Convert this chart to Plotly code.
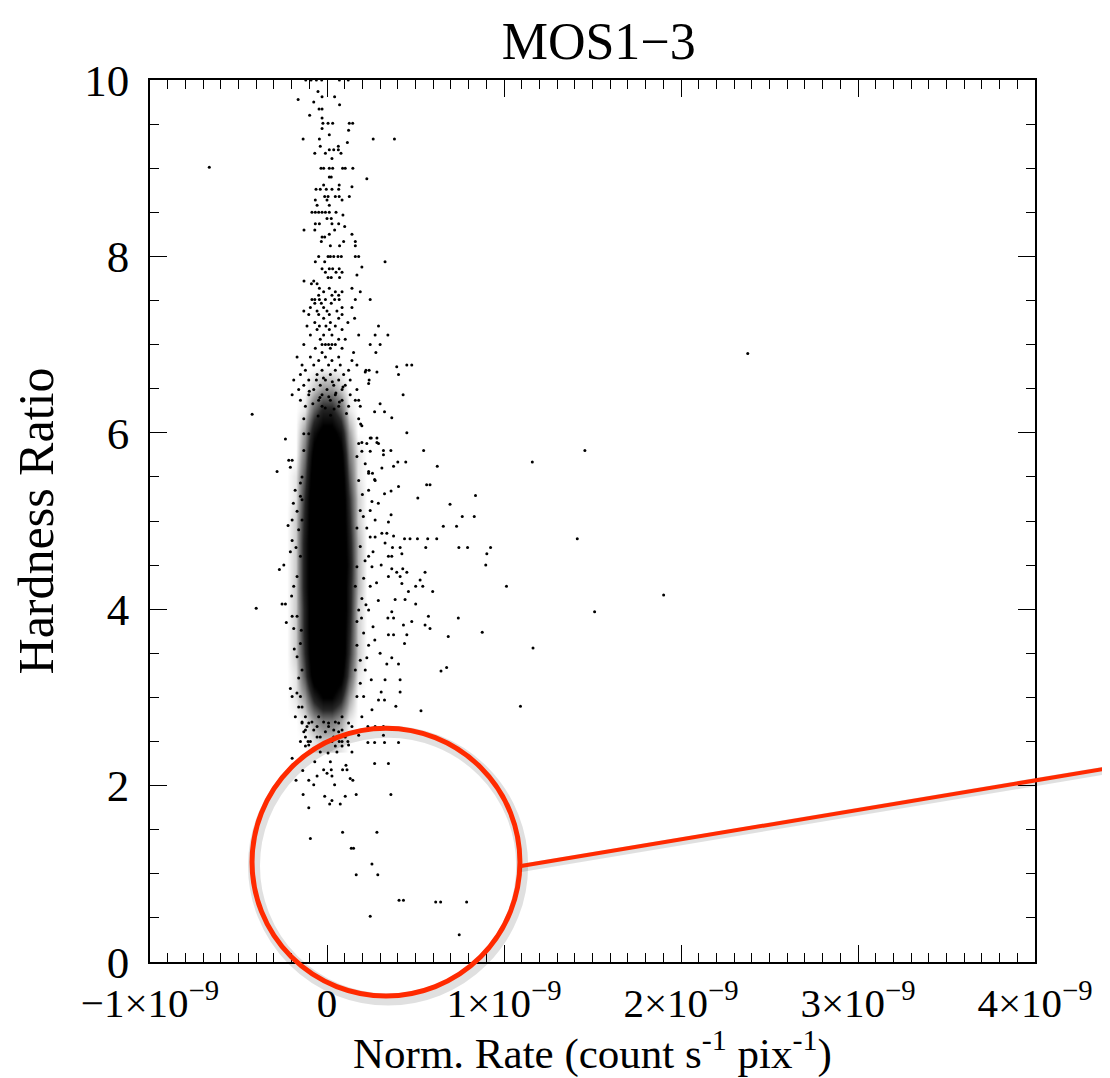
import plotly.graph_objects as go

# x values are in units of 1e-10 count s^-1 pix^-1, y is the hardness ratio

# dense core, read as a density grid (0 = empty, 1 = solid black)
core_x = [-2.25, -1.75, -1.25, -0.75, -0.25, 0.25, 0.75, 1.25, 1.75, 2.25]
core_y = [2.5, 2.75, 3.0, 3.25, 3.5, 3.75, 4.0, 4.25, 4.5, 4.75, 5.0,
          5.25, 5.5, 5.75, 6.0, 6.25, 6.5, 6.75]
core_z = [
    [0, 0, 0, .05, .1, .1, .05, 0, 0, 0],
    [0, 0, .05, .2, .3, .3, .2, .05, 0, 0],
    [0, .05, .2, .55, .75, .75, .55, .2, 0, 0],
    [0, .05, .4, .9, 1, 1, .85, .4, .05, 0],
    [0, .1, .5, 1, 1, 1, 1, .5, .1, 0],
    [0, .1, .55, 1, 1, 1, 1, .55, .1, 0],
    [0, .1, .55, 1, 1, 1, 1, .6, .1, 0],
    [0, .1, .6, 1, 1, 1, 1, .6, .15, 0],
    [0, .1, .6, 1, 1, 1, 1, .65, .15, 0],
    [0, .1, .6, 1, 1, 1, 1, .6, .15, 0],
    [0, .1, .55, 1, 1, 1, 1, .55, .1, 0],
    [0, .05, .5, 1, 1, 1, 1, .5, .1, 0],
    [0, .05, .4, .95, 1, 1, .95, .4, .05, 0],
    [0, 0, .3, .85, 1, 1, .85, .3, .05, 0],
    [0, 0, .2, .65, .85, .85, .65, .2, 0, 0],
    [0, 0, .05, .35, .55, .55, .35, .05, 0, 0],
    [0, 0, 0, .1, .2, .2, .1, 0, 0, 0],
    [0, 0, 0, 0, 0, 0, 0, 0, 0, 0],
]

# upper stem (y > 6)
stem_x = [-1.2, -0.9, -0.6, -0.3, 0.7, 1.2, -0.51, -1.63, -0.28, 0.43, -0.75, 0.71, -0.45, -0.28,
          -0.98, -0.28, -0.23, 0.06, 0.32, 1.26, 1.45, -0.28, 1.22, 0.13, -1.35, -0.43, 2.61, 3.81,
          1.15, -0.38, 0.64, 0.13, 0.38, 0.64, -0.69, -0.09, 0.79, 0.28,
          -0.34, -0.19, 0.13, 0.32, 0.88, 1.03, 1.46, -6.65,
          0.13, 0.24, 2.25, -0.19, 0.69, 1.41, -0.62, -0.38, -0.04, 0.28, 0.66, -0.13, 0.06, 0.47,
          0.69, 1.26, -0.66, 0.0, 0.85, -0.56, 0.13,
          -0.85, -0.66, -0.47, -0.28, -0.09, 0.13, 0.51, 0.9, 0.0, 0.24, -0.66, -0.43, 0.28, 0.66,
          1.0, -1.3, -0.69, 0.43, 0.13, 1.41, -0.28, -0.13, -0.32, 0.94, 1.6, 0.19, 0.71, 1.6,
          -0.47, 0.06, 0.19, 0.38, 0.62, 0.81, 1.6, 1.79, -0.66, -0.13, 3.28, 1.97, -0.28, 0.13,
          0.32, 0.69, -0.09, 0.51, 0.85, 1.69, 0.06, 0.24, 0.71, -1.3, -0.75, -0.88, -0.56, -0.43,
          0.13, 1.41, -0.19, 0.47, 0.85, 1.88, -0.47, 0.28, 0.66,
          -0.85, -0.69, -0.43, -0.09, 0.43, 0.69, 1.6, 2.44, -0.69, -0.32, 0.24, -0.94, -0.19, 0.85,
          1.41, -1.31, -0.56, 0.0, 0.56, -1.03, -0.47, 0.13, 0.85, -0.19, 0.66, 1.56, -0.69, 0.19,
          1.18, -1.13, -0.43, -0.06, 0.47, 2.91, -0.56, 0.13, 0.85, -0.94, -0.19, 0.28, 1.79, 2.72,
          3.44, -0.38, 0.66, 1.03,
          -1.31, -0.28, -0.09, 0.09, 0.28, 0.47, 2.44, 3.0, -0.66, 0.19, 0.85, -0.28, 1.5, 2.76,
          -1.69, -0.94, -0.09, 0.66, -0.47, 0.28, 1.41, -1.41, -0.75, 0.09, 0.75, 1.69, 4.51, 4.79,
          3.94, -1.22, -0.28, 0.47, 1.22, 2.2, 2.38, 2.16, 2.82, -1.5, -0.56, 0.19, 0.94, 4.04,
          -1.88, -1.03, -0.09, 0.66, 1.31, 2.38, 2.35, -1.31, -0.38, 0.38, 1.03, -1.6, -0.75, 0.0,
          0.85, 1.69, -1.97, -1.03, -0.28, 0.47, 1.31, 4.3, -1.5, -0.47, 0.19, 0.85, 1.6, 1.79,
          3.0, -1.22, -0.28, 0.66, 1.22, 1.88, 2.69, 3.25, -4.23, -1.31, 1.79, 3.66, 1.97, 4.51,
          -0.6, -0.2, 0.3, 0.9, -1.0, 0.5, -0.4, 0.1, 0.7, -0.8, -0.1, 0.4, 1.1, -0.5, 0.2]
stem_y = [10, 10, 10, 10, 10, 10, 9.87, 9.78, 9.81, 9.81, 9.75, 9.72, 9.67, 9.67,
          9.6, 9.57, 9.51, 9.51, 9.51, 9.51, 9.51, 9.45, 9.43, 9.38, 9.33, 9.33, 9.33, 9.33,
          9.29, 9.25, 9.25, 9.21, 9.21, 9.21, 9.17, 9.17, 9.17, 9.11,
          9.0, 9.0, 9.0, 9.0, 9.0, 9.0, 9.0, 9.01,
          8.9, 8.9, 8.88, 8.81, 8.81, 8.79, 8.76, 8.76, 8.76, 8.76, 8.76, 8.68, 8.68, 8.68,
          8.68, 8.68, 8.64, 8.64, 8.64, 8.58, 8.58,
          8.5, 8.5, 8.5, 8.5, 8.5, 8.5, 8.5, 8.47, 8.43, 8.43, 8.37, 8.37, 8.37, 8.37,
          8.34, 8.3, 8.3, 8.3, 8.25, 8.25, 8.22, 8.22, 8.17, 8.17, 8.17, 8.12, 8.12, 8.12,
          8.0, 8.0, 8.0, 8.0, 8.0, 8.0, 8.0, 8.0, 7.94, 7.94, 7.94, 7.88, 7.86, 7.86,
          7.86, 7.86, 7.82, 7.82, 7.82, 7.79, 7.76, 7.76, 7.76, 7.72, 7.72, 7.69, 7.69, 7.64,
          7.64, 7.64, 7.6, 7.6, 7.6, 7.6, 7.56, 7.56, 7.56,
          7.51, 7.51, 7.51, 7.51, 7.51, 7.51, 7.51, 7.51, 7.47, 7.47, 7.47, 7.42, 7.42, 7.42,
          7.42, 7.38, 7.38, 7.38, 7.38, 7.34, 7.34, 7.34, 7.34, 7.3, 7.3, 7.3, 7.25, 7.25,
          7.25, 7.21, 7.21, 7.21, 7.21, 7.21, 7.17, 7.17, 7.17, 7.11, 7.11, 7.11, 7.11, 7.11,
          7.11, 7.06, 7.06, 7.06,
          7.0, 7.0, 7.0, 7.0, 7.0, 7.0, 7.0, 7.0, 6.96, 6.96, 6.96, 6.91, 6.91, 6.91,
          6.86, 6.86, 6.86, 6.86, 6.82, 6.82, 6.82, 6.77, 6.77, 6.77, 6.77, 6.77, 6.77, 6.77,
          6.75, 6.71, 6.71, 6.71, 6.71, 6.71, 6.71, 6.69, 6.69, 6.66, 6.66, 6.66, 6.66, 6.66,
          6.6, 6.6, 6.6, 6.6, 6.6, 6.6, 6.56, 6.54, 6.54, 6.54, 6.54, 6.49, 6.49, 6.49,
          6.49, 6.49, 6.43, 6.43, 6.43, 6.43, 6.43, 6.43, 6.37, 6.37, 6.37, 6.37, 6.37, 6.37,
          6.33, 6.3, 6.3, 6.3, 6.3, 6.3, 6.24, 6.24, 6.21, 6.16, 6.16, 6.17, 6.08, 6.0,
          6.6, 6.62, 6.58, 6.52, 6.47, 6.45, 6.4, 6.41, 6.35, 6.33, 6.28, 6.27, 6.22, 6.19, 6.2]

# loose points around the edges of the core
fringe_x = [-2.35, -2.16, -1.97, -2.07, -2.82, -1.41, -1.5, -1.41, -1.69, -1.97, -1.41, -1.6,
            -1.97, -2.07, -2.44, -2.69, -1.69, -1.88, -2.54, -2.35, -1.97, -1.69, -1.88, -1.5,
            -1.69, -1.41, -1.6, -1.31, -1.03, -1.31, -1.5, -1.5, -1.45, -2.07, -1.97, -1.5,
            -1.6, -1.41, -1.8, -2.2, -1.75, -2.0, -1.85, -2.3, -1.7, -1.9,
            2.44, 2.82, 1.79, 2.25, 2.91, 1.97, 2.44, 1.69, 2.16, 2.35, 1.79, 2.72, 2.35, 2.54,
            1.88, 2.44, 2.72, 1.69, 2.25, 2.44, 2.72, 1.88, 2.35, 1.69, 2.54, 2.07, 1.6, 2.44,
            1.97, 1.79, 2.35, 1.69, 2.07, 1.69, 2.35, 1.88, 1.6, 2.16, 1.88, 1.69, 2.07,
            2.9, 3.0, 2.6, 2.8, 2.5, 2.9, 3.1, 2.6, 2.2, 2.7, 2.0, 2.15, 1.95, 2.25, 2.05, 1.9]
fringe_y = [5.93, 5.69, 5.69, 5.61, 5.56, 5.5, 5.43, 5.24, 5.11, 5.01, 5.01, 4.9,
            4.78, 4.65, 4.5, 4.45, 4.37, 4.26, 4.06, 4.06, 3.92, 3.92, 3.78, 3.61,
            3.46, 3.31, 3.22, 5.99, 5.99, 5.8, 5.28, 4.6, 3.76, 3.1, 3.01, 3.01,
            2.89, 2.89, 5.35, 4.95, 4.7, 4.15, 3.55, 3.85, 3.05, 5.2,
            5.94, 5.94, 5.88, 5.88, 5.88, 5.79, 5.79, 5.73, 5.65, 5.56, 5.46, 5.46, 5.35, 5.22,
            5.12, 5.12, 5.01, 4.92, 4.92, 4.82, 4.82, 4.71, 4.6, 4.48, 4.48, 4.35, 4.26, 4.26,
            4.12, 3.99, 3.99, 3.86, 3.73, 3.59, 3.59, 3.42, 3.31, 3.31, 3.16, 3.01, 3.01,
            4.1, 3.5, 3.8, 4.3, 3.2, 5.2, 5.6, 4.65, 4.05, 3.65, 5.3, 4.55, 3.9, 3.45, 5.05, 6.1]

# scattered points to the right of the core and a few far outliers
halo_x = [2.5, 1.97, 2.82, 3.19, 3.61, 5.46, 14.57, 3.19, 4.0, 4.45, 11.6, 3.76, 6.23, 2.35,
          2.57, 2.69, 5.63, 5.82, 4.04, 3.62, 3.25, 8.39, 5.13, 6.95, 3.62, 7.64, 8.32, 3.47,
          6.57, 7.32, 3.1, 3.38, 3.76, 4.38, 4.69, 5.11, 5.69, 6.2, 14.14, 3.28, 3.7, 4.13,
          5.58, 7.45, 7.94, 9.24, 4.23, 9.03, 3.47, 3.66, 3.06, 8.97, 3.66, 4.28, 3.94, 4.51,
          5.54, 3.47, 4.13, 5.26, 4.23, 5.01, 5.41, 10.14, 4.6, 5.97, 19.02, 3.85, 4.41, 5.01,
          3.66, 15.12, 5.73, 3.44, 3.76, 7.42, 4.79, 4.32, 5.54, 5.82, 8.77, 3.47, 3.76, 4.51,
          6.85, 4.38, 11.64, 3.66, 3.38, 4.04, 6.76, 6.44, 3.28, 4.13, 3.06, 4.13, 2.91, 3.25,
          3.89, 10.93, 5.31, 2.54, 23.77, -4.0]
halo_y = [5.94, 5.89, 5.89, 5.8, 5.8, 5.8, 5.8, 5.75, 5.67, 5.67, 5.67, 5.62, 5.62, 5.54,
          5.54, 5.47, 5.41, 5.41, 5.39, 5.34, 5.31, 5.29, 5.26, 5.19, 5.07, 5.05, 5.05, 4.99,
          4.94, 4.94, 4.86, 4.86, 4.83, 4.8, 4.8, 4.8, 4.8, 4.8, 4.8, 4.75, 4.7, 4.7,
          4.7, 4.7, 4.7, 4.7, 4.63, 4.63, 4.6, 4.6, 4.5, 4.5, 4.46, 4.46, 4.42, 4.42,
          4.42, 4.37, 4.37, 4.33, 4.29, 4.26, 4.26, 4.26, 4.2, 4.2, 4.16, 4.11, 4.11, 4.06,
          3.97, 3.97, 3.92, 3.9, 3.9, 3.9, 3.86, 3.82, 3.82, 3.78, 3.74, 3.71, 3.71, 3.71,
          3.69, 3.61, 3.56, 3.45, 3.38, 3.38, 3.34, 3.3, 3.2, 3.2, 3.06, 3.06, 2.97, 2.97,
          2.9, 2.9, 2.85, 2.86, 6.9, 4.01]

# low hardness tail (y < 2.8)
tail_x = [-1.79, -1.22, -0.47, 0.85, 1.97, -1.41, -0.85, -0.19, 0.47, -1.41, -1.03, 0.09, 0.66,
          1.22, -1.13, -0.56, 0.09, 1.41, 2.31, 2.72, 3.19, -1.22, -0.75, 0.38, 0.85, -1.31,
          -0.09, 0.66, 1.79, 3.19, -1.22, -0.38, 0.38, 1.03, -0.56, 0.56, -1.5, -0.94, 0.09,
          0.85, -1.07, 0.28, 0.69, 1.18, 2.31, 2.69, 3.25, 4.04, -1.03, 1.22, -1.22, 0.47, 0.85,
          -0.94, -0.38, 0.56, 1.41, 0.06, -1.97, -0.69, 0.19, 2.69, 3.47, 1.07, -0.19, 0.24,
          0.88, 1.13, -1.37, 0.0, -0.56, 0.28, 1.31, -1.75, -1.03, 1.46, -0.75, 0.43, -1.35,
          1.65, 3.61, -0.13, 1.03, 0.28, 0.15, 0.75, -1.03, 0.88, 2.82, -0.94, 1.37, 1.5, 2.54,
          1.65, 2.87, 4.07, 4.32, 6.14, 6.42, 7.89, 2.44, 7.47]
tail_y = [2.78, 2.78, 2.78, 2.78, 2.78, 2.72, 2.72, 2.72, 2.72, 2.71, 2.71, 2.71, 2.71,
          2.71, 2.67, 2.67, 2.67, 2.67, 2.67, 2.67, 2.67, 2.63, 2.63, 2.63, 2.63, 2.61,
          2.61, 2.61, 2.57, 2.57, 2.55, 2.55, 2.55, 2.55, 2.55, 2.55, 2.5, 2.5, 2.5,
          2.5, 2.5, 2.5, 2.5, 2.5, 2.49, 2.49, 2.49, 2.49, 2.46, 2.46, 2.45, 2.45, 2.45,
          2.38, 2.38, 2.38, 2.38, 2.37, 2.31, 2.27, 2.27, 2.25, 2.25, 2.23, 2.18, 2.18,
          2.18, 2.18, 2.17, 2.14, 2.11, 2.11, 2.08, 2.06, 2.06, 2.06, 2.01, 2.01, 1.9,
          1.9, 1.9, 1.88, 1.88, 1.83, 1.79, 1.79, 1.75, 1.47, 1.47, 1.4, 1.29, 1.29, 1.11,
          0.99, 0.99, 0.7, 0.7, 0.68, 0.68, 0.68, 0.52, 0.31]

x_tick_vals = [-1e-9, 0, 1e-9, 2e-9, 3e-9, 4e-9]
x_tick_text = ["\u22121\u00d710<sup>\u22129</sup>", "0", "1\u00d710<sup>\u22129</sup>",
               "2\u00d710<sup>\u22129</sup>", "3\u00d710<sup>\u22129</sup>",
               "4\u00d710<sup>\u22129</sup>"]

FONT = "Liberation Serif"
RED = "#ff2a00"


def scale(vals):
    return [v * 1e-10 for v in vals]


def make_plot():
    fig = go.Figure()

    fig.add_trace(
        go.Heatmap(
            x=scale(core_x),
            y=core_y,
            z=core_z,
            zmin=0,
            zmax=1,
            zsmooth="best",
            colorscale=[
                [0, "rgba(0,0,0,0)"],
                [0.2, "rgba(0,0,0,0.4)"],
                [0.5, "rgba(0,0,0,0.85)"],
                [0.75, "rgba(0,0,0,1)"],
                [1, "rgba(0,0,0,1)"],
            ],
            showscale=False,
            hoverinfo="skip",
        )
    )

    for xs, ys in ((stem_x, stem_y), (fringe_x, fringe_y), (halo_x, halo_y), (tail_x, tail_y)):
        fig.add_trace(
            go.Scatter(
                x=scale(xs),
                y=ys,
                mode="markers",
                marker=dict(color="black", size=3),
                showlegend=False,
            )
        )

    axis_common = dict(
        showline=True,
        linecolor="black",
        linewidth=1.5,
        mirror="ticks",
        ticks="inside",
        ticklen=17,
        tickwidth=1.3,
        tickcolor="black",
        showgrid=False,
        zeroline=False,
        automargin=False,
    )

    fig.update_xaxes(
        range=[-1e-9, 4e-9],
        tickmode="array",
        tickvals=x_tick_vals,
        ticktext=x_tick_text,
        ticklabelstandoff=4,
        tickfont=dict(family=FONT, size=41, color="black"),
        minor=dict(tickmode="linear", tick0=-1e-9, dtick=1e-10, ticks="inside",
                   ticklen=9, tickwidth=1.1, tickcolor="black"),
        title=dict(text="Norm. Rate (count s<sup>-1</sup> pix<sup>-1</sup>)",
                   font=dict(family=FONT, size=43, color="black"), standoff=20),
        **axis_common,
    )
    fig.update_yaxes(
        range=[0, 10],
        tickmode="linear",
        tick0=0,
        dtick=2,
        ticklabelstandoff=10,
        tickfont=dict(family=FONT, size=45, color="black"),
        minor=dict(tickmode="linear", tick0=0, dtick=0.5, ticks="inside",
                   ticklen=9, tickwidth=1.1, tickcolor="black"),
        title=dict(text="Hardness Ratio", font=dict(family=FONT, size=50, color="black"),
                   standoff=30),
        **axis_common,
    )

    # highlight circle with a soft shadow, and the pointer line
    fig.add_shape(type="circle", xref="paper", yref="paper",
                  x0=0.1175, x1=0.4205, y0=-0.0425, y1=0.2610,
                  line=dict(color="rgba(0,0,0,0.12)", width=12), layer="above")
    fig.add_shape(type="circle", xref="paper", yref="paper",
                  x0=0.1153, x1=0.418, y0=-0.0385, y1=0.265,
                  line=dict(color=RED, width=5), layer="above")
    fig.add_shape(type="line", xref="paper", yref="paper",
                  x0=0.4192, y0=0.1066, x1=1.0847, y1=0.2180,
                  line=dict(color="rgba(0,0,0,0.12)", width=8), layer="above")
    fig.add_shape(type="line", xref="paper", yref="paper",
                  x0=0.4192, y0=0.1088, x1=1.0847, y1=0.2200,
                  line=dict(color=RED, width=4), layer="above")

    # the page body keeps an 8 px margin, so the figure is 8 px smaller than the window
    fig.update_layout(
        width=1102,
        height=1070,
        margin=dict(l=142, r=75, t=72, b=116),
        paper_bgcolor="white",
        plot_bgcolor="white",
        showlegend=False,
        title=dict(text="MOS1\u22123", x=0.536, xanchor="center", y=0.969, yanchor="middle",
                   font=dict(family=FONT, size=52, color="black")),
    )

    return fig


def main():
    fig = make_plot()
    fig.write_html("out.html")


if __name__ == "__main__":
    main()
